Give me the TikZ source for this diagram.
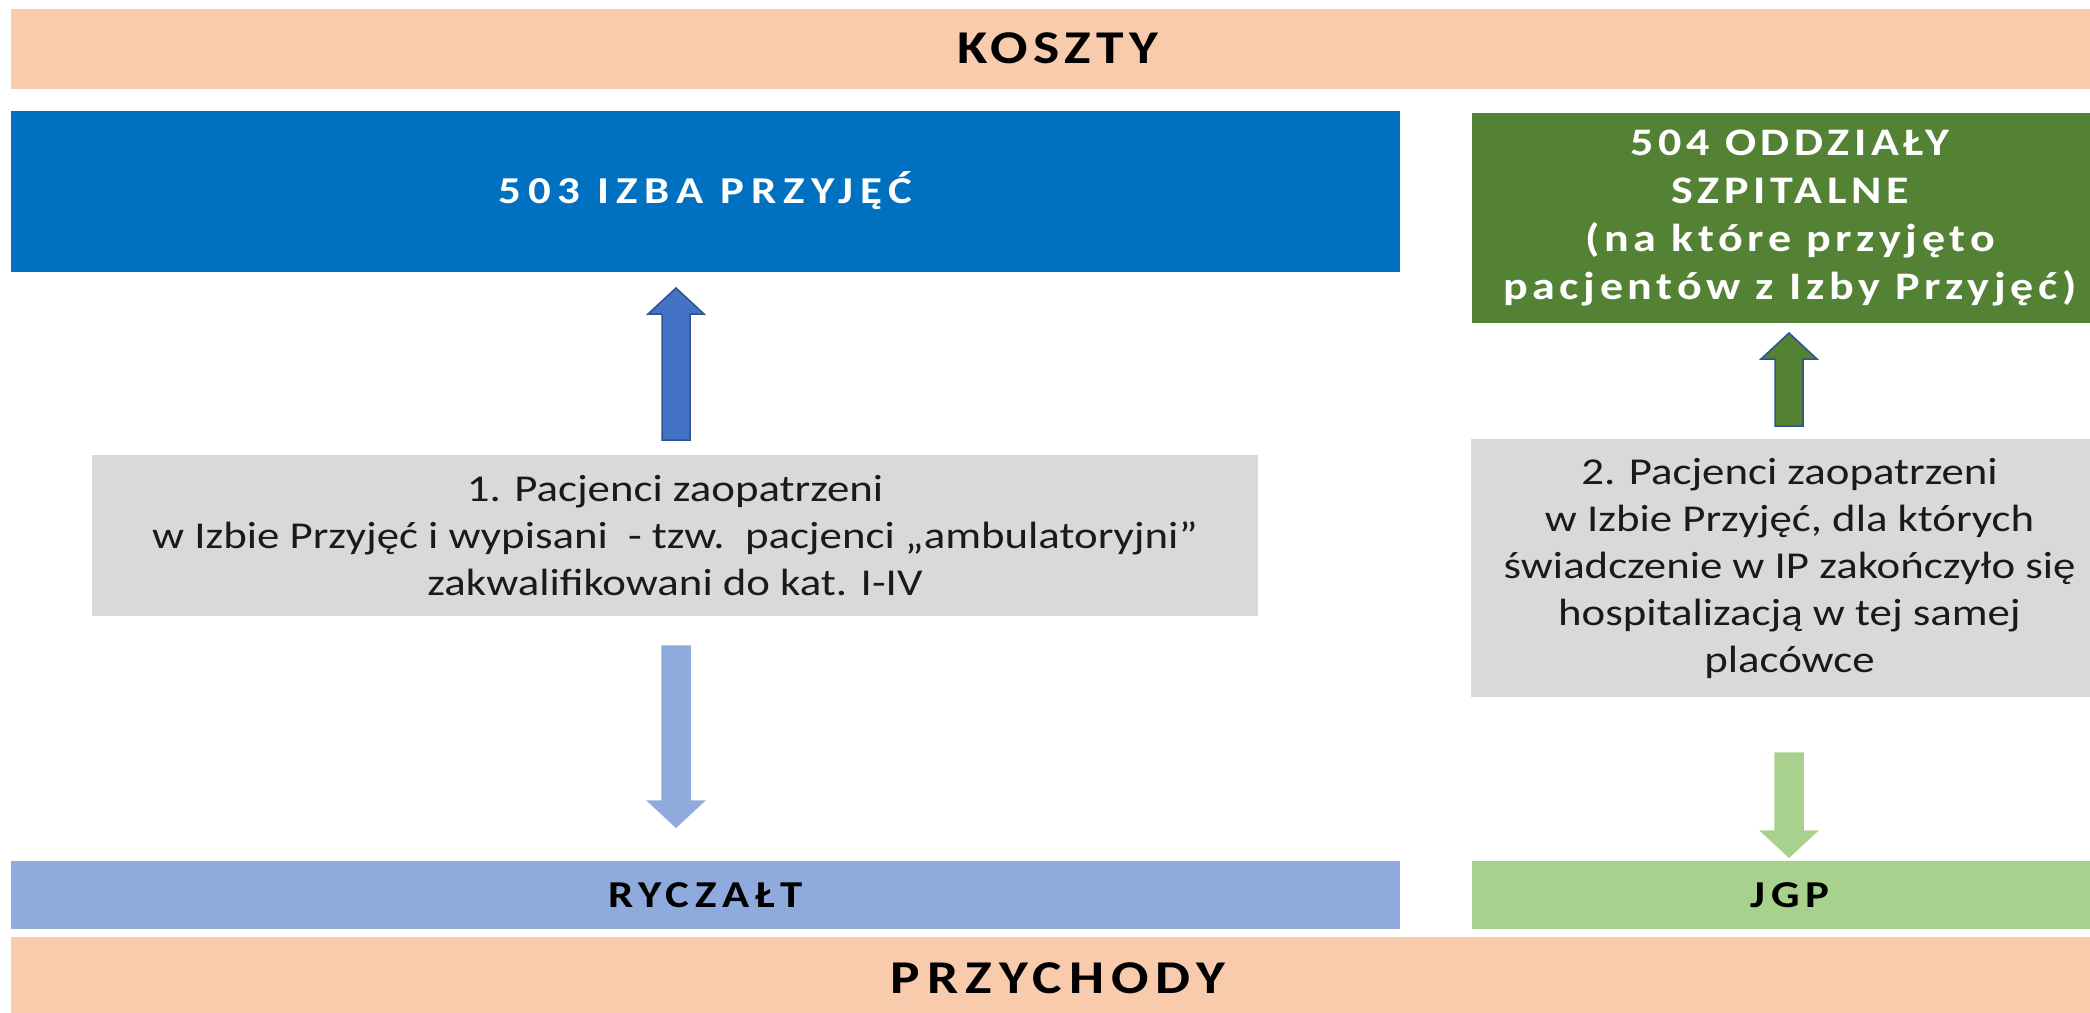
\documentclass[tikz,border=0pt]{standalone}
\usepackage{fontspec}
\setmainfont{Carlito}
\newfontfamily\bodyfont{Carlito}[FakeStretch=1.18]
\newfontfamily\headfont{Carlito}[FakeStretch=1.18,LetterSpace=11]
\usetikzlibrary{calc}
\definecolor{peach}{HTML}{F8CBAD}
\definecolor{izbablue}{HTML}{0070C0}
\definecolor{oddzgreen}{HTML}{548235}
\definecolor{boxgray}{HTML}{D9D9D9}
\definecolor{ryczblue}{HTML}{8FAADC}
\definecolor{jgpgreen}{HTML}{A9D18E}
\definecolor{arrblue}{HTML}{4472C4}
\definecolor{arrline}{HTML}{2F528F}
\definecolor{txtdark}{HTML}{1A1A1A}
\begin{document}
\begin{tikzpicture}[x=1pt,y=1pt,
  box/.style={rectangle, inner sep=0pt, outer sep=0pt, draw=none},
  bandtext/.style={text height=29.7pt, text depth=0pt, text=black,
    font=\headfont\bfseries\fontsize{47}{47}\selectfont},
  smalltext/.style={text height=24pt, text depth=0pt, text=black,
    font=\headfont\bfseries\addfontfeatures{LetterSpace=15}\fontsize{38}{38}\selectfont},
  graytext/.style={align=center, text=txtdark,
    font=\bodyfont\fontsize{38}{47}\selectfont},
  blockarrow/.style={line width=1.5pt, line join=miter, to path={
    let \p1=(\tikztostart), \p2=(\tikztotarget), \n1={ifthenelse(\y2>\y1,1,-1)} in
    (\x1-14pt,\y1) -- (\x1-14pt,\y2-\n1*26pt) -- (\x1-28pt,\y2-\n1*26pt) -- (\x1,\y2)
    -- (\x1+28pt,\y2-\n1*26pt) -- (\x1+14pt,\y2-\n1*26pt) -- (\x1+14pt,\y1) -- cycle}}
]
\useasboundingbox (0,0) rectangle (2090,-1012);
\fill[white] (0,0) rectangle (2090,-1012);

% bands
\node[box, bandtext, fill=peach, minimum width=2094pt, minimum height=80pt] (koszty) at (1058,-49) {KOSZTY};
\node[box, bandtext, fill=peach, minimum width=2094pt, minimum height=84pt,
  font=\headfont\bfseries\addfontfeatures{LetterSpace=15}\fontsize{47}{47}\selectfont]
  (przychody) at (1058,-979) {PRZYCHODY};

% cost boxes
\node[box, smalltext, text=white, fill=izbablue, minimum width=1389pt, minimum height=161pt,
  font=\headfont\bfseries\addfontfeatures{LetterSpace=18}\fontsize{38}{38}\selectfont]
  (izba) at (705.5,-191.5) {503 IZBA PRZYJĘĆ};
\node[box, fill=oddzgreen, text=white, minimum width=636pt, minimum height=210pt, align=center,
  font=\headfont\bfseries\addfontfeatures{LetterSpace=12}\fontsize{39}{48}\selectfont]
  (oddz) at (1790,-218) {504 ODDZIAŁY\\SZPITALNE\\(na które przyjęto\\pacjentów z Izby Przyjęć)};

% patient boxes
\node[box, graytext, fill=boxgray, minimum width=1166pt, minimum height=161pt]
  (amb) at (675,-535.5) {1. Pacjenci zaopatrzeni\\w Izbie Przyjęć i wypisani\ \ - tzw.\ \ pacjenci „ambulatoryjni”\\zakwalifikowani do kat. I-IV};
\node[box, graytext, fill=boxgray, minimum width=637pt, minimum height=258pt]
  (hosp) at (1789.5,-568) {2. Pacjenci zaopatrzeni\\w Izbie Przyjęć, dla których\\świadczenie w IP zakończyło się\\hospitalizacją w tej samej\\placówce};

% revenue boxes
\node[box, smalltext, fill=ryczblue, minimum width=1389pt, minimum height=68pt] (rycz) at (705.5,-895) {RYCZAŁT};
\node[box, smalltext, fill=jgpgreen, minimum width=636pt, minimum height=68pt] (jgp) at (1790,-895) {JGP};

% arrow axes
\coordinate (lx) at (676,0);
\coordinate (rx) at (1789,0);

% arrows
\draw[blockarrow, fill=arrblue, draw=arrline]
  ($(lx |- amb.north)+(0,15)$) to ($(lx |- izba.south)+(0,-16)$);
\draw[blockarrow, fill=ryczblue, draw=ryczblue]
  ($(lx |- amb.south)+(0,-30)$) to ($(lx |- rycz.north)+(0,34)$);
\draw[blockarrow, fill=oddzgreen, draw=arrline]
  ($(rx |- hosp.north)+(0,13)$) to ($(rx |- oddz.south)+(0,-10)$);
\draw[blockarrow, fill=jgpgreen, draw=jgpgreen]
  ($(rx |- hosp.south)+(0,-56)$) to ($(rx |- jgp.north)+(0,4)$);
\end{tikzpicture}
\end{document}
